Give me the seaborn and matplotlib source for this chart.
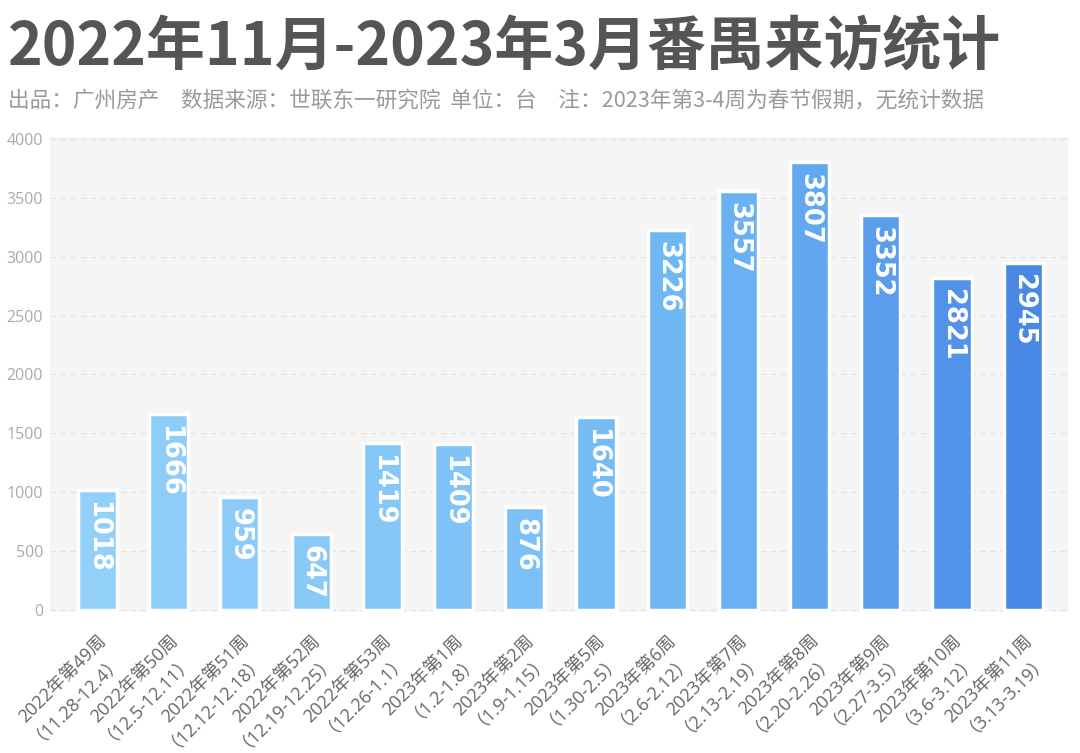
import matplotlib
matplotlib.use("Agg")
import matplotlib.pyplot as plt
import seaborn as sns
import pandas as pd

weeks = ["2022年第49周", "2022年第50周", "2022年第51周", "2022年第52周", "2022年第53周",
         "2023年第1周", "2023年第2周", "2023年第5周", "2023年第6周", "2023年第7周",
         "2023年第8周", "2023年第9周", "2023年第10周", "2023年第11周"]
dates = ["（11.28-12.4）", "（12.5-12.11）", "（12.12-12.18）", "（12.19-12.25）", "（12.26-1.1）",
         "（1.2-1.8）", "（1.9-1.15）", "（1.30-2.5）", "（2.6-2.12）", "（2.13-2.19）",
         "（2.20-2.26）", "（2.27-3.5）", "（3.6-3.12）", "（3.13-3.19）"]
visits = [1018, 1666, 959, 647, 1419, 1409, 876, 1640, 3226, 3557, 3807, 3352, 2821, 2945]
yticks = [0, 500, 1000, 1500, 2000, 2500, 3000, 3500, 4000]

title = "2022年11月-2023年3月番禺来访统计"
subtitle = "出品：广州房产　数据来源：世联东一研究院  单位：台　注：2023年第3-4周为春节假期，无统计数据"

sns.set_theme(style="white")
plt.rcParams['font.family'] = ['Noto Sans CJK SC', 'DejaVu Sans']

labels = [f"{w}\n{d}" for w, d in zip(weeks, dates)]
df = pd.DataFrame({"label": labels, "visits": visits})
colors = sns.blend_palette(["#92cff9", "#84c7f8", "#6cb5f3", "#4a88e6"], n_colors=len(visits))

fig = plt.figure(figsize=(10.8, 7.53), dpi=100)
ax = fig.add_axes([50 / 1080, (753 - 612) / 753, (1068 - 50) / 1080, 475 / 753])
ax.set_facecolor("#f5f5f5")

sns.barplot(data=df, x="label", y="visits", hue="label", palette=colors, legend=False,
            saturation=1, width=0.55, edgecolor="white", linewidth=2.5, ax=ax, zorder=3)

ax.set_ylim(-17, 4017)
ax.set_xlim(-0.667, 13.63)
ax.set_yticks(yticks)
ax.set_yticklabels([str(t) for t in yticks], color="#aaaaaa", fontsize=11.5, family="Open Sans")
ax.yaxis.grid(True, color="#e2e2e2", linestyle=(0, (5, 4)), linewidth=0.8, zorder=0)
ax.set_axisbelow(True)
ax.tick_params(axis="y", length=0, pad=5)
ax.tick_params(axis="x", length=0, pad=14)
ax.set_xticks(range(len(labels)))
ax.set_xticklabels(labels, rotation=45, ha="right", rotation_mode="anchor",
                   fontsize=13, color="#666666", linespacing=1.0,
                   family=["Open Sans", "Noto Sans CJK SC"])
ax.set_xlabel("")
ax.set_ylabel("")
for s in ax.spines.values():
    s.set_visible(False)

for i, v in enumerate(visits):
    ax.annotate(str(v), xy=(i, v), xytext=(0, -8), textcoords="offset points",
                rotation=270, ha="center", va="top", color="white",
                fontsize=18.5, fontweight="bold", family="DejaVu Sans", zorder=5)

fig.text(8 / 1080, 1 - 48 / 753, title, fontsize=42.4, fontweight="black",
         color="#555555", ha="left", va="center")
fig.text(8 / 1080, 1 - 102 / 753, subtitle, fontsize=15.6, color="#9a9a9a",
         ha="left", va="center")

fig.savefig("out.png", dpi=100)
